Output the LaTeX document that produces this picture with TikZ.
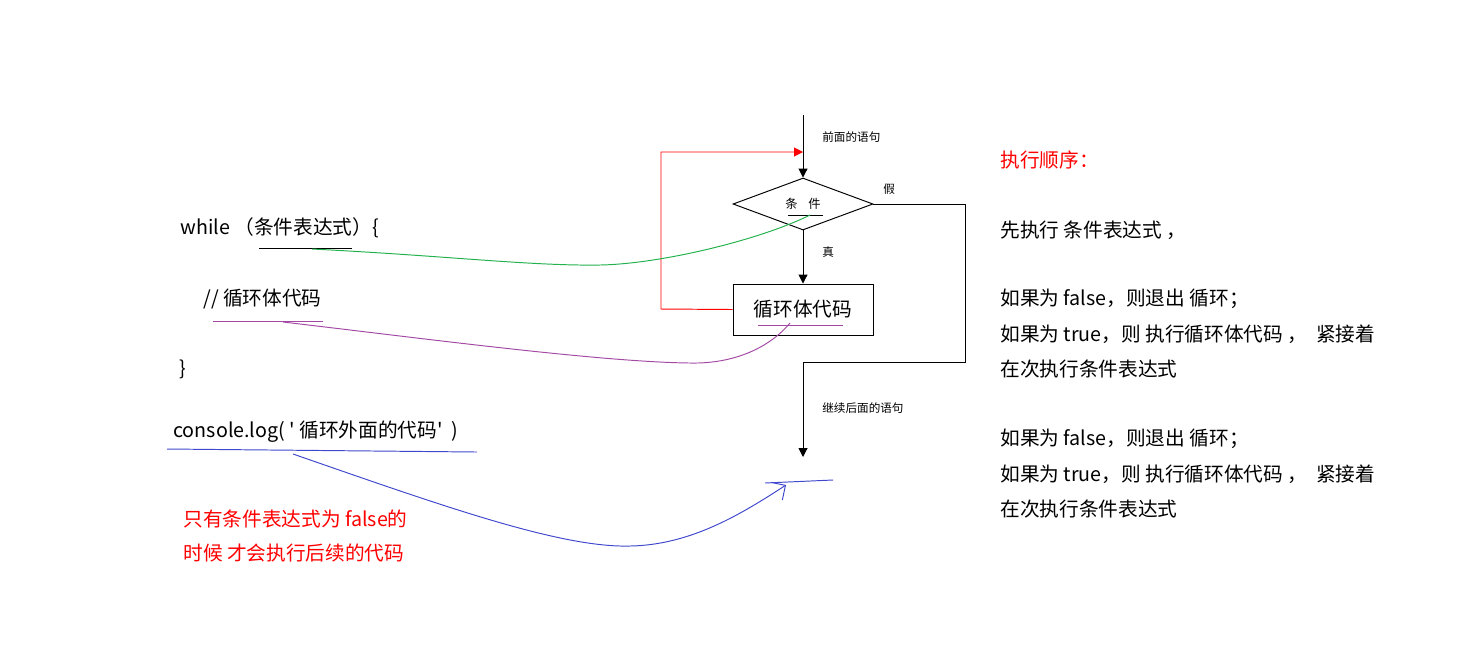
\documentclass[tikz,border=0pt]{standalone}
\usepackage{fontspec}
\setmainfont{Noto Sans CJK SC}
\newfontfamily\rawfont{Noto Sans CJK SC}
\usetikzlibrary{arrows.meta,shapes.geometric}
\definecolor{cgreen}{RGB}{34,177,76}
\definecolor{cpurple}{RGB}{163,73,164}
\definecolor{cblue}{RGB}{63,72,204}
\definecolor{cred}{RGB}{255,0,0}
\begin{document}
\begin{tikzpicture}[x=0.02cm,y=-0.02cm,
  big/.style={font=\fontsize{11.2pt}{13pt}\selectfont, inner sep=0pt, anchor=west},
  small/.style={font=\fontsize{6.6pt}{8pt}\selectfont, inner sep=0pt, anchor=west},
  flow/.style={draw=black, line width=0.55pt},
  arr/.style={-{Triangle[length=5pt,width=5pt]}},
  link/.style={line width=0.55pt},
  condshape/.style={diamond, draw=black, line width=0.55pt, minimum width=2.8cm, minimum height=1.04cm, inner sep=0pt, font=\fontsize{7pt}{8pt}\selectfont},
  bodyshape/.style={rectangle, draw=black, line width=0.55pt, minimum width=2.8cm, minimum height=1.02cm, inner sep=0pt, font=\fontsize{11.2pt}{13pt}\selectfont}
]
\useasboundingbox (0,0) rectangle (1469,647);

% ---------------- flowchart ----------------
\coordinate (top) at (803,115);
\coordinate (entry) at (803,152);
\coordinate (loopcorner) at (661,309);
\coordinate (rightcorner) at (965,362);
\coordinate (after) at (803,457);

\node[condshape] (cond) at (803,204) {条\hspace{6pt}件};
\node[bodyshape] (body) at (803,309.5) {循环体代码};

\draw[flow, arr] (top) -- (cond.north);
\draw[flow, arr] (cond.south) -- (body.north);
\draw[flow, arr] (cond.east) -| (rightcorner) -| (after);
\draw[link, draw=cred, -{Triangle[length=5pt,width=5pt]}] (body.west) -- (loopcorner) |- (entry);

\node[small] (lbefore) at (822,137) {前面的语句};
\node[small] (lfalse) at (883,189) {假};
\node[small] (ltrue) at (822,252) {真};
\node[small] (lafter) at (822,408) {继续后面的语句};

% underlines in the flowchart
\coordinate (cu1) at (788,215);
\coordinate (cu2) at (823,215);
\draw[link] (cu1) -- (cu2);
\coordinate (bu1) at (758,325);
\coordinate (bu2) at (843,325);
\draw[link, cpurple] (bu1) -- (bu2);
\coordinate (au1) at (765,483);
\coordinate (au2) at (833,480);
\draw[link, cblue] (au1) -- (au2);

% ---------------- code on the left ----------------
\node[big] (wline) at (180,228) {while （条件表达式）\{};
\node[big] (cline) at (203,299) {// 循环体代码};
\node[big] (eline) at (179,369) {\}};
\node[big] (lline) at (173,432) {\rawfont console.log( ' 循环外面的代码'\ \ )};

\coordinate (wu1) at (259,248);
\coordinate (wu2) at (352,248);
\draw[link] (wu1) -- (wu2);
\coordinate (pu1) at (213,321);
\coordinate (pu2) at (323,321);
\draw[link, cpurple] (pu1) -- (pu2);
\coordinate (lu1) at (167,449);
\coordinate (lu2) at (477,452);
\draw[link, cblue] (lu1) -- (lu2);

% connecting curves
\coordinate (gs) at (312,249);
\coordinate (gm) at (600,265);
\coordinate (ge) at (810,215);
\draw[link, cgreen] (gs) .. controls (450,256) and (530,266) .. (gm)
  .. controls (660,264) and (760,240) .. (ge);

\coordinate (ps) at (283,322);
\coordinate (pm) at (690,363);
\coordinate (pe) at (790,323);
\draw[link, cpurple] (ps) .. controls (420,338) and (600,362) .. (pm)
  .. controls (735,364) and (770,347) .. (pe);

\coordinate (bs) at (293,454);
\coordinate (bm) at (630,546);
\coordinate (be) at (786,485);
\draw[link, cblue, -{Straight Barb[length=6pt,width=12pt]}] (bs) .. controls (440,505) and (560,548) .. (bm)
  .. controls (690,545) and (740,515) .. (be);

% red note
\node[big, text=cred] (note1) at (183,519) {只有条件表达式为 false的};
\node[big, text=cred] (note2) at (183,553) {时候 才会执行后续的代码};

% ---------------- right text ----------------
\node[big, text=cred] (r0) at (1000,160) {执行顺序：};
\node[big] (r1) at (1000,230) {先执行 条件表达式 ，};
\node[big] (r2) at (1000,299) {如果为 false，则退出 循环；};
\node[big] (r3) at (1000,334) {如果为 true，则 执行循环体代码 ，\ \ 紧接着};
\node[big] (r4) at (1000,369) {在次执行条件表达式};
\node[big] (r5) at (1000,439) {如果为 false，则退出 循环；};
\node[big] (r6) at (1000,474) {如果为 true，则 执行循环体代码 ，\ \ 紧接着};
\node[big] (r7) at (1000,509) {在次执行条件表达式};
\end{tikzpicture}
\end{document}
